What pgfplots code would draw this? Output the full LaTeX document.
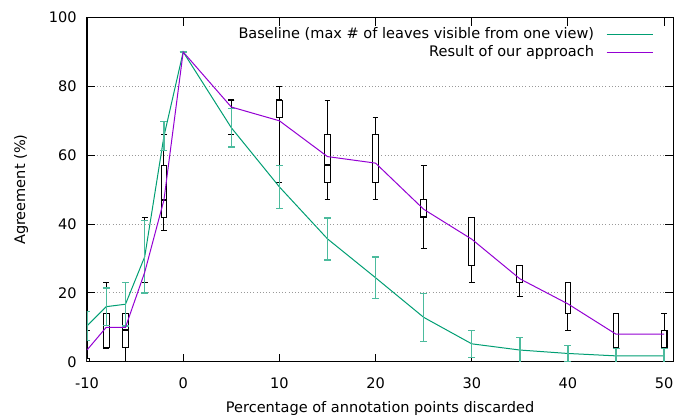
\documentclass[border=0pt]{standalone}
\usepackage{fontspec}
\setmainfont{DejaVu Sans}
\usepackage{pgfplots}
\pgfplotsset{compat=1.18}
\usepgfplotslibrary{statistics}
\definecolor{bgreen}{HTML}{009E73}
\definecolor{bpurple}{HTML}{9400D3}
\begin{document}
\fontsize{10.9}{13}\selectfont
\begin{tikzpicture}
\useasboundingbox (-65.25pt,-40.7pt) rectangle (443.25pt,271.3pt);
\begin{axis}[
  at={(0,0)}, anchor=south west,
  scale only axis, width=439.7pt, height=258.15pt,
  xmin=-10, xmax=50.95, ymin=0, ymax=100,
  xtick={-10,0,...,50}, ytick={0,20,...,100},
  tick pos=both, tick align=inside, major tick length=6pt,
  axis line style={line width=1.1pt},
  tick style={line width=0.8pt, black},
  ymajorgrids, grid style={dotted, gray!80, line width=0.7pt},
  /pgf/number format/assume math mode=true,
  ticklabel style={font=\fontsize{10.9}{13}\selectfont},
  xticklabel style={yshift=-8.5pt},
  yticklabel style={xshift=-4pt},
  xlabel={Percentage of annotation points discarded},
  ylabel={Agreement (\%)},
  xlabel style={yshift=-2pt},
  ylabel style={yshift=8pt},
  legend plot pos=right,
  legend cell align=right,
  legend image code/.code={\draw[#1] (0pt,0pt) -- (34.5pt,0pt);},
  legend style={at={(rel axis cs:0.966,0.975)}, anchor=north east,
    draw=none, fill=none, column sep=8pt, row sep=1pt, inner sep=0pt,
    nodes={inner sep=1pt, text height=8pt, text depth=2.5pt},
    font=\fontsize{10.9}{13}\selectfont},
  boxplot/draw direction=y,
  boxplot/box extend=0.6,
  boxplot/whisker extend=0.6,
  boxplot/every median/.style={line width=1.1pt},
]
% box plots (our approach)
\pgfplotsset{myboxes/.style={draw=black, fill=white, line width=0.8pt, solid, forget plot}}
\addplot[myboxes, boxplot prepared={draw position=-10, lower whisker=0, lower quartile=0, median=0, upper quartile=1, upper whisker=9}] coordinates {};
\addplot[myboxes, boxplot prepared={draw position=-8, lower whisker=4, lower quartile=4, median=4, upper quartile=14, upper whisker=23}] coordinates {};
\addplot[myboxes, boxplot prepared={draw position=-6, lower whisker=0, lower quartile=4, median=9.2, upper quartile=14, upper whisker=23}] coordinates {};
\addplot[myboxes, boxplot prepared={draw position=-4, lower whisker=23, lower quartile=23, median=23, upper quartile=23, upper whisker=42}] coordinates {};
\addplot[myboxes, boxplot prepared={draw position=-2, lower whisker=38, lower quartile=42, median=47, upper quartile=57, upper whisker=66}] coordinates {};
\addplot[myboxes, boxplot prepared={draw position=0, lower whisker=90, lower quartile=90, median=90, upper quartile=90, upper whisker=90}] coordinates {};
\addplot[myboxes, boxplot prepared={draw position=5, lower whisker=66, lower quartile=76, median=76, upper quartile=76, upper whisker=76}] coordinates {};
\addplot[myboxes, boxplot prepared={draw position=10, lower whisker=52, lower quartile=71, median=76, upper quartile=76, upper whisker=80}] coordinates {};
\addplot[myboxes, boxplot prepared={draw position=15, lower whisker=47, lower quartile=52, median=57.2, upper quartile=66, upper whisker=76}] coordinates {};
\addplot[myboxes, boxplot prepared={draw position=20, lower whisker=47, lower quartile=52, median=52, upper quartile=66, upper whisker=71}] coordinates {};
\addplot[myboxes, boxplot prepared={draw position=25, lower whisker=33, lower quartile=42, median=42, upper quartile=47, upper whisker=57}] coordinates {};
\addplot[myboxes, boxplot prepared={draw position=30, lower whisker=23, lower quartile=28, median=28, upper quartile=42, upper whisker=42}] coordinates {};
\addplot[myboxes, boxplot prepared={draw position=35, lower whisker=19, lower quartile=23, median=23, upper quartile=28, upper whisker=28}] coordinates {};
\addplot[myboxes, boxplot prepared={draw position=40, lower whisker=9, lower quartile=14, median=14, upper quartile=23, upper whisker=23}] coordinates {};
\addplot[myboxes, boxplot prepared={draw position=45, lower whisker=4, lower quartile=4, median=4, upper quartile=14, upper whisker=14}] coordinates {};
\addplot[myboxes, boxplot prepared={draw position=50, lower whisker=4, lower quartile=4, median=4, upper quartile=9, upper whisker=14}] coordinates {};
% baseline
\addplot[color=bgreen, line width=0.75pt, mark=none,
  error bars/.cd, y dir=both, y explicit, error mark=-,
  error bar style={color=bgreen!70, line width=1pt},
  error mark options={rotate=90, color=bgreen!70, mark size=2.6pt, line width=1pt}]
  table[x=x, y=y, y error=e] {
x y e
-10 10.4 4.2
-8 16.0 5.4
-6 16.7 6.3
-4 30.5 10.5
-2 65.5 4.2
0 90.0 0
5 68.0 5.6
10 50.8 6.2
15 35.7 6.1
20 24.4 6.0
25 12.9 7.0
30 5.2 3.9
35 3.4 3.6
40 2.4 2.3
45 1.7 2.2
50 1.7 2.2
};
\addlegendentry{Baseline (max \# of leaves visible from one view)}
% our approach
\addplot[color=bpurple, line width=0.75pt, mark=none] table[x=x, y=y] {
x y
-10 3.4
-8 10.0
-6 10.0
-4 26.0
-2 47.0
0 90.0
5 74.0
10 70.0
15 59.6
20 57.7
25 44.3
30 35.6
35 24.1
40 16.8
45 8.0
50 8.0
};
\addlegendentry{Result of our approach}
\end{axis}
\end{tikzpicture}
\end{document}
